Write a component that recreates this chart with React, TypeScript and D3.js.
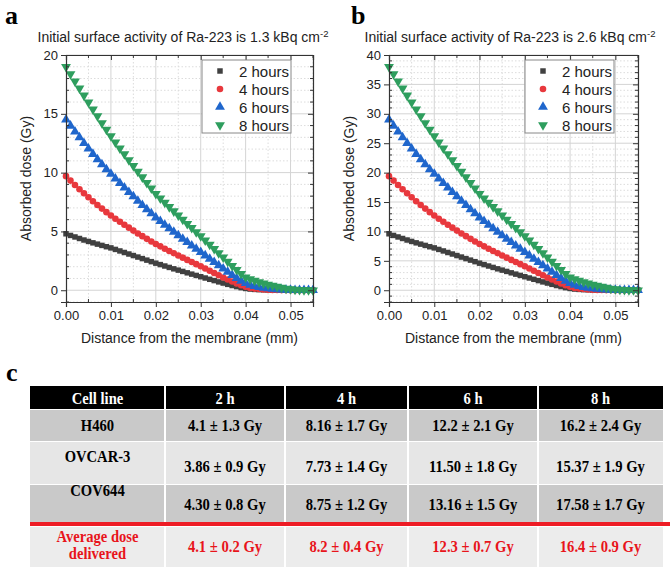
import React, { useRef, useEffect } from 'react';
import * as d3 from 'd3';

// distance from the membrane (mm)
const distance = [
  0.000, 0.001, 0.002, 0.003, 0.004, 0.005, 0.006, 0.007, 0.008, 0.009,
  0.010, 0.011, 0.012, 0.013, 0.014, 0.015, 0.016, 0.017, 0.018, 0.019,
  0.020, 0.021, 0.022, 0.023, 0.024, 0.025, 0.026, 0.027, 0.028, 0.029,
  0.030, 0.031, 0.032, 0.033, 0.034, 0.035, 0.036, 0.037, 0.038, 0.039,
  0.040, 0.041, 0.042, 0.043, 0.044, 0.045, 0.046, 0.047, 0.048, 0.049,
  0.050, 0.051, 0.052, 0.053, 0.054, 0.055,
];

// panel a : 1.3 kBq cm-2
const doseA2h = [4.80,4.66,4.53,4.40,4.27,4.15,4.03,3.92,3.81,3.70,3.60,3.47,3.34,3.21,3.08,2.95,2.82,2.69,2.56,2.43,2.30,2.18,2.06,1.94,1.82,1.71,1.60,1.48,1.37,1.26,1.15,1.04,0.93,0.82,0.71,0.61,0.50,0.40,0.31,0.22,0.15,0.10,0.07,0.05,0.04,0.03,0.02,0.01,0.01,0,0,0,0,0,0,0];
const doseA4h = [9.70,9.32,8.95,8.59,8.24,7.90,7.57,7.25,6.94,6.64,6.35,6.08,5.82,5.57,5.32,5.07,4.83,4.60,4.37,4.15,3.93,3.73,3.53,3.34,3.15,2.96,2.77,2.58,2.40,2.22,2.04,1.85,1.66,1.47,1.28,1.09,0.91,0.74,0.58,0.43,0.30,0.20,0.14,0.10,0.07,0.05,0.03,0.02,0.01,0.01,0,0,0,0,0,0];
const doseA6h = [14.50,13.98,13.48,12.99,12.51,12.04,11.58,11.13,10.70,10.28,9.88,9.49,9.10,8.72,8.34,7.97,7.60,7.24,6.88,6.53,6.18,5.87,5.56,5.26,4.96,4.66,4.37,4.08,3.79,3.51,3.23,2.95,2.67,2.39,2.11,1.83,1.56,1.29,1.03,0.80,0.60,0.45,0.34,0.26,0.20,0.15,0.11,0.08,0.05,0.03,0.02,0.01,0,0,0,0];
const doseA8h = [19.00,18.38,17.77,17.16,16.56,15.97,15.38,14.80,14.22,13.66,13.10,12.58,12.07,11.57,11.07,10.58,10.09,9.61,9.14,8.67,8.20,7.82,7.45,7.08,6.72,6.36,6.00,5.65,5.30,4.95,4.60,4.24,3.88,3.52,3.16,2.80,2.44,2.08,1.73,1.40,1.10,0.95,0.82,0.70,0.59,0.49,0.39,0.30,0.22,0.15,0.10,0.06,0.04,0.02,0.01,0];

// panel b : 2.6 kBq cm-2
const doseB2h = [9.60,9.32,9.06,8.80,8.54,8.30,8.06,7.84,7.62,7.40,7.20,6.94,6.68,6.42,6.16,5.90,5.64,5.38,5.12,4.86,4.60,4.36,4.12,3.88,3.64,3.42,3.20,2.96,2.74,2.52,2.30,2.08,1.86,1.64,1.42,1.22,1.00,0.80,0.62,0.44,0.30,0.20,0.14,0.10,0.08,0.06,0.04,0.02,0.02,0,0,0,0,0,0,0];
const doseB4h = [19.40,18.64,17.90,17.18,16.48,15.80,15.14,14.50,13.88,13.28,12.70,12.16,11.64,11.14,10.64,10.14,9.66,9.20,8.74,8.30,7.86,7.46,7.06,6.68,6.30,5.92,5.54,5.16,4.80,4.44,4.08,3.70,3.32,2.94,2.56,2.18,1.82,1.48,1.16,0.86,0.60,0.40,0.28,0.20,0.14,0.10,0.06,0.04,0.02,0.02,0,0,0,0,0,0];
const doseB6h = [29.00,27.96,26.96,25.98,25.02,24.08,23.16,22.26,21.40,20.56,19.76,18.98,18.20,17.44,16.68,15.94,15.20,14.48,13.76,13.06,12.36,11.74,11.12,10.52,9.92,9.32,8.74,8.16,7.58,7.02,6.46,5.90,5.34,4.78,4.22,3.66,3.12,2.58,2.06,1.60,1.20,0.90,0.68,0.52,0.40,0.30,0.22,0.16,0.10,0.06,0.04,0.02,0,0,0,0];
const doseB8h = [38.00,36.76,35.54,34.32,33.12,31.94,30.76,29.60,28.44,27.32,26.20,25.16,24.14,23.14,22.14,21.16,20.18,19.22,18.28,17.34,16.40,15.64,14.90,14.16,13.44,12.72,12.00,11.30,10.60,9.90,9.20,8.48,7.76,7.04,6.32,5.60,4.88,4.16,3.46,2.80,2.20,1.90,1.64,1.40,1.18,0.98,0.78,0.60,0.44,0.30,0.20,0.12,0.08,0.04,0.02,0];

const seriesNames = ['2 hours', '4 hours', '6 hours', '8 hours'];
const seriesColors = ['#404040', '#e8383d', '#1f66cc', '#2e9e5e'];
const seriesSymbols = [d3.symbolSquare, d3.symbolCircle, d3.symbolTriangle, d3.symbolTriangle];

const xTicks = [0, 0.01, 0.02, 0.03, 0.04, 0.05];

// table (panel c)
const tableHeader = ['Cell line', '2 h', '4 h', '6 h', '8 h'];
const cellLines = ['H460', 'OVCAR-3', 'COV644'];
const doseH460 = ['4.1 ± 1.3 Gy', '8.16 ± 1.7 Gy', '12.2 ± 2.1 Gy', '16.2 ± 2.4 Gy'];
const doseOVCAR3 = ['3.86 ± 0.9 Gy', '7.73 ± 1.4 Gy', '11.50 ± 1.8 Gy', '15.37 ± 1.9 Gy'];
const doseCOV644 = ['4.30 ± 0.8 Gy', '8.75 ± 1.2 Gy', '13.16 ± 1.5 Gy', '17.58 ± 1.7 Gy'];
const averageDose = ['4.1 ± 0.2 Gy', '8.2 ± 0.4 Gy', '12.3 ± 0.7 Gy', '16.4 ± 0.9 Gy'];

const SANS = 'Arial, "Liberation Sans", sans-serif';
const SERIF = '"Times New Roman", "Liberation Serif", serif';

const symbolSize = (si) => (si === 0 ? 30 : si === 1 ? 34 : 42);

const DosePanel = (props) => {
  const ref = useRef(null);
  const { x0, x1, y0, y1, yMin, yMax, yMinor, series, legendX } = props;

  useEffect(() => {
    const g = d3.select(ref.current);
    g.selectAll('*').remove();

    const xScale = d3.scaleLinear().domain([0, 0.055]).range([x0, x1]);
    const yScale = d3.scaleLinear().domain([yMin, yMax]).range([y1, y0]);
    const yTicks = d3.range(0, yMax + 0.1, 5);
    const yMinorTicks = d3.range(Math.ceil(yMin), yMax + 0.1, yMinor).filter((v) => v % 5 !== 0);
    const xMinorTicks = [0.005, 0.015, 0.025, 0.035, 0.045, 0.055];

    // grid
    const grid = g.append('g');
    grid.selectAll('.gxm').data(xMinorTicks).enter().append('line')
      .attr('x1', (d) => xScale(d)).attr('x2', (d) => xScale(d))
      .attr('y1', y0).attr('y2', y1)
      .attr('stroke', '#dcdcdc').attr('stroke-dasharray', '1.5,2');
    grid.selectAll('.gym').data(yMinorTicks).enter().append('line')
      .attr('y1', (d) => yScale(d)).attr('y2', (d) => yScale(d))
      .attr('x1', x0).attr('x2', x1)
      .attr('stroke', '#dcdcdc').attr('stroke-dasharray', '1.5,2');
    grid.selectAll('.gx').data(xTicks.slice(1)).enter().append('line')
      .attr('x1', (d) => xScale(d)).attr('x2', (d) => xScale(d))
      .attr('y1', y0).attr('y2', y1)
      .attr('stroke', '#d4d4d4').attr('stroke-width', 1);
    grid.selectAll('.gy').data(yTicks).enter().append('line')
      .attr('y1', (d) => yScale(d)).attr('y2', (d) => yScale(d))
      .attr('x1', x0).attr('x2', x1)
      .attr('stroke', '#d4d4d4').attr('stroke-width', 1);

    // markers
    series.forEach((values, si) => {
      const sym = d3.symbol().type(seriesSymbols[si]).size(symbolSize(si));
      g.append('g').selectAll('path').data(values).enter().append('path')
        .attr('d', sym)
        .attr('transform', (d, i) =>
          `translate(${xScale(distance[i])},${yScale(d)})` + (si === 3 ? ' rotate(180)' : ''))
        .attr('fill', seriesColors[si]);
    });

    // axes
    const axisColor = '#333';
    const fmt = d3.format('.2f');
    const bottom = g.append('g').attr('transform', `translate(0,${y1})`)
      .call(d3.axisBottom(xScale).tickValues(xTicks).tickFormat(fmt).tickSize(5).tickPadding(4));
    bottom.append('g').selectAll('line').data(xMinorTicks).enter().append('line')
      .attr('x1', (d) => xScale(d)).attr('x2', (d) => xScale(d)).attr('y1', 0).attr('y2', -3)
      .attr('stroke', axisColor);
    const left = g.append('g').attr('transform', `translate(${x0},0)`)
      .call(d3.axisLeft(yScale).tickValues(yTicks).tickSize(5).tickPadding(3));
    left.append('g').selectAll('line').data(yMinorTicks).enter().append('line')
      .attr('y1', (d) => yScale(d)).attr('y2', (d) => yScale(d)).attr('x1', 0).attr('x2', 3)
      .attr('stroke', axisColor);
    const top = g.append('g').attr('transform', `translate(0,${y0})`)
      .call(d3.axisTop(xScale).tickValues(xTicks).tickFormat(() => '').tickSize(-5));
    top.append('g').selectAll('line').data(xMinorTicks).enter().append('line')
      .attr('x1', (d) => xScale(d)).attr('x2', (d) => xScale(d)).attr('y1', 0).attr('y2', 3)
      .attr('stroke', axisColor);
    const right = g.append('g').attr('transform', `translate(${x1},0)`)
      .call(d3.axisRight(yScale).tickValues(yTicks).tickFormat(() => '').tickSize(-5));
    right.append('g').selectAll('line').data(yMinorTicks).enter().append('line')
      .attr('y1', (d) => yScale(d)).attr('y2', (d) => yScale(d)).attr('x1', 0).attr('x2', -3)
      .attr('stroke', axisColor);

    [bottom, left, top, right].forEach((a) => {
      a.select('.domain').attr('stroke', axisColor).attr('stroke-width', 1.2);
      a.selectAll('.tick line').attr('stroke', axisColor);
      a.selectAll('text').attr('font-family', SANS).attr('font-size', 13).attr('fill', '#222');
    });

    // legend
    const lg = g.append('g').attr('transform', `translate(${legendX},60)`);
    lg.append('rect').attr('width', 89).attr('height', 73)
      .attr('fill', '#fff').attr('stroke', '#888').attr('stroke-width', 1);
    seriesNames.forEach((name, si) => {
      const cy = 11 + si * 18;
      lg.append('path')
        .attr('d', d3.symbol().type(seriesSymbols[si]).size(symbolSize(si)))
        .attr('transform', `translate(18,${cy})` + (si === 3 ? ' rotate(180)' : ''))
        .attr('fill', seriesColors[si]);
      lg.append('text').attr('x', 37).attr('y', cy + 5.5)
        .attr('font-family', SANS).attr('font-size', 15).attr('fill', '#222')
        .text(name);
    });
  }, [x0, x1, y0, y1, yMin, yMax, yMinor, series, legendX]);

  const cx = (x0 + x1) / 2;
  return (
    <g>
      <text x={props.letterX} y={24} fontFamily={SERIF} fontWeight="bold" fontSize={26} fill="#000">
        {props.letter}
      </text>
      <text x={props.titleX} y={42} textAnchor="middle" fontFamily={SANS} fontSize={14} fill="#222">
        {props.title}
        <tspan fontSize={9.5} dy={-5}>-2</tspan>
      </text>
      <g ref={ref}></g>
      <text x={cx} y={343} textAnchor="middle" fontFamily={SANS} fontSize={14} fill="#222">
        Distance from the membrane (mm)
      </text>
      <text transform={`translate(${x0 - 35},${(y0 + y1) / 2}) rotate(-90)`} textAnchor="middle"
        fontFamily={SANS} fontSize={14} fill="#222">
        Absorbed dose (Gy)
      </text>
    </g>
  );
};

// condensed bold serif cell text
const CellText = ({ x, y, children, size = 17 }) => (
  <text transform={`translate(${x},${y}) scale(0.86,1)`} textAnchor="middle" fontSize={size}>
    {children}
  </text>
);

const DoseTable = () => {
  const cols = [30, 165, 285, 408, 538, 663];
  const rowTops = [386, 410, 442, 485, 527];
  const rowBottoms = [409, 441, 484, 522, 567];
  const rowFills = ['#000', '#c9c9c9', '#e6e6e6', '#c9c9c9', '#ececec'];
  const rows = [
    { name: [cellLines[0]], values: doseH460, nameY: [431], valueY: 431, color: '#000' },
    { name: [cellLines[1]], values: doseOVCAR3, nameY: [462], valueY: 472, color: '#000' },
    { name: [cellLines[2]], values: doseCOV644, nameY: [496], valueY: 510, color: '#000' },
    { name: ['Average dose', 'delivered'], values: averageDose, nameY: [542, 559], valueY: 552, color: '#e8141b' },
  ];
  const mid = (i) => (cols[i] + cols[i + 1]) / 2;
  return (
    <g fontFamily={SERIF} fontWeight="bold">
      <text x={6} y={381} fontSize={26} fill="#000">c</text>
      {rowTops.map((t, i) => (
        <rect key={'r' + i} x={cols[0]} y={t} width={cols[5] - cols[0]} height={rowBottoms[i] - t} fill={rowFills[i]} />
      ))}
      {cols.slice(1, 5).map((c, i) => (
        <line key={'c' + i} x1={c} x2={c} y1={386} y2={567} stroke="#fff" strokeWidth={2} />
      ))}
      <rect x={cols[0]} y={522} width={670 - cols[0]} height={4} fill="#ee1c25" />
      <g fill="#fff">
        {tableHeader.map((h, i) => (
          <CellText key={'h' + i} x={mid(i)} y={404}>{h}</CellText>
        ))}
      </g>
      {rows.map((r, ri) => (
        <g key={'row' + ri} fill={r.color}>
          {r.name.map((n, ni) => (
            <CellText key={ni} x={mid(0)} y={r.nameY[ni]}>{n}</CellText>
          ))}
          {r.values.map((v, vi) => (
            <CellText key={'v' + vi} x={mid(vi + 1)} y={r.valueY}>{v}</CellText>
          ))}
        </g>
      ))}
    </g>
  );
};

const App = () => {
  return (
    <div>
      <style>{'body{margin:0}'}</style>
      <svg width={670} height={567} style={{ display: 'block', background: '#fff' }}>
        <DosePanel letter="a" letterX={5} titleX={183}
          title="Initial surface activity of Ra-223 is 1.3 kBq cm"
          x0={66} x1={313} y0={55} y1={302} yMin={-1} yMax={20} yMinor={1}
          series={[doseA2h, doseA4h, doseA6h, doseA8h]} legendX={202} />
        <DosePanel letter="b" letterX={351} titleX={510}
          title="Initial surface activity of Ra-223 is 2.6 kBq cm"
          x0={389} x1={638} y0={55} y1={302} yMin={-2} yMax={40} yMinor={1}
          series={[doseB2h, doseB4h, doseB6h, doseB8h]} legendX={525} />
        <DoseTable />
      </svg>
    </div>
  );
};

export default App;
